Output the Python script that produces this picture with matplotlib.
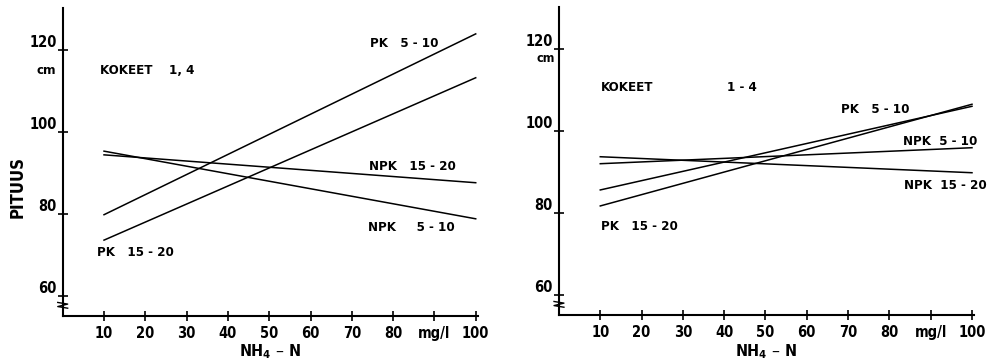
import matplotlib
matplotlib.use("Agg")
from matplotlib import pyplot as plt

plt.rcParams["font.family"] = ["DejaVu Sans"]
plt.rcParams["font.stretch"] = "condensed"
plt.rcParams["font.weight"] = "bold"

# NH4-N concentration, mg/l
x_ends = [10, 100]
x_ticks = [10, 20, 30, 40, 50, 60, 70, 80, 90, 100]
x_ticklabels = ["10", "20", "30", "40", "50", "60", "70", "80", "mg/l", "100"]
y_ticks = [60, 80, 100, 120]

# Left panel: KOKEET 1, 4
left_pk_5_10 = [79.8, 123.9]
left_pk_15_20 = [73.6, 113.2]
left_npk_15_20 = [94.4, 87.6]
left_npk_5_10 = [95.3, 78.8]

# Right panel: KOKEET 1 - 4
right_pk_5_10 = [85.6, 106.0]
right_pk_15_20 = [81.7, 106.5]
right_npk_5_10 = [92.0, 95.9]
right_npk_15_20 = [93.7, 89.8]

fig = plt.figure(figsize=(10.05, 3.61), dpi=100)
ax1 = fig.add_axes([0.0624, 0.1247, 0.413, 0.853])
ax2 = fig.add_axes([0.5562, 0.1274, 0.413, 0.853])

lw = 1.1
for ax in (ax1, ax2):
    ax.set_xlim(0, 100.5)
    ax.set_ylim(55.1, 130.2)
    for s in ("top", "right"):
        ax.spines[s].set_visible(False)
    for s in ("left", "bottom"):
        ax.spines[s].set_linewidth(1.5)
    ax.set_xticks(x_ticks)
    ax.set_xticklabels(x_ticklabels)
    ax.set_yticks(y_ticks)
    ax.tick_params(direction="inout", length=7, width=1.2, labelsize=10.5, pad=4)
    ax.tick_params(axis="y", pad=1)
    for lab in ax.get_yticklabels():
        lab.set_va("bottom")
    ax.set_xlabel("NH$_4$ – N", fontsize=11.5, fontweight="bold", labelpad=1)
    # axis break mark
    ax.plot([-1.2, 1.2, -1.2, 1.2], [58.4, 58.0, 57.4, 57.0], color="black",
            lw=1, clip_on=False)

ax1.plot(x_ends, left_pk_5_10, color="black", lw=lw)
ax1.plot(x_ends, left_pk_15_20, color="black", lw=lw)
ax1.plot(x_ends, left_npk_15_20, color="black", lw=lw)
ax1.plot(x_ends, left_npk_5_10, color="black", lw=lw)

ax2.plot(x_ends, right_pk_5_10, color="black", lw=lw)
ax2.plot(x_ends, right_pk_15_20, color="black", lw=lw)
ax2.plot(x_ends, right_npk_5_10, color="black", lw=lw)
ax2.plot(x_ends, right_npk_15_20, color="black", lw=lw)

fs = 9.5
kw = dict(fontsize=fs, va="center")
ax1.text(9.0, 114.9, "KOKEET    1, 4", **kw)
ax1.text(74.4, 121.5, "PK   5 - 10", **kw)
ax1.text(74.2, 91.5, "NPK   15 - 20", **kw)
ax1.text(74.0, 76.6, "NPK     5 - 10", **kw)
ax1.text(8.3, 70.5, "PK   15 - 20", **kw)
ax1.text(-1.5, 114.9, "cm", fontsize=9.5, ha="right", va="center")
ax1.text(-11, 86.5, "PITUUS", fontsize=12, rotation=90, ha="center", va="center")

ax2.text(10.2, 110.5, "KOKEET", **kw)
ax2.text(40.7, 110.5, "1 - 4", **kw)
ax2.text(68.3, 105.1, "PK   5 - 10", **kw)
ax2.text(83.3, 97.3, "NPK  5 - 10", **kw)
ax2.text(83.5, 86.8, "NPK  15 - 20", **kw)
ax2.text(10.2, 76.6, "PK   15 - 20", **kw)
ax2.text(-1, 117.6, "cm", fontsize=9, ha="right", va="center")

fig.savefig("out.png", dpi=100)
